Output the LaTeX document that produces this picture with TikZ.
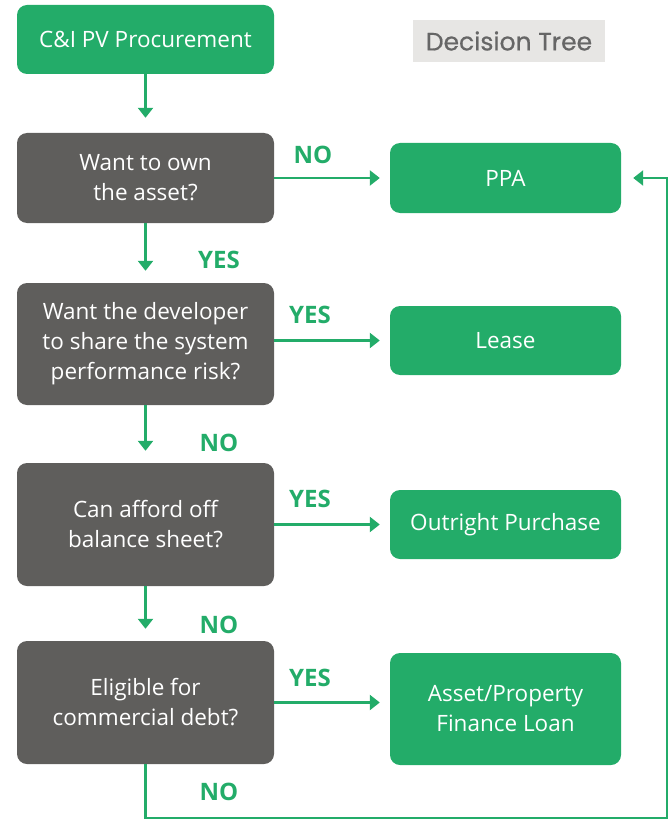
\documentclass[tikz,border=0pt]{standalone}
\usepackage{fontspec}
\setmainfont{Open Sans}
\newfontfamily\titlefont[FakeBold=0.6]{Poppins}
\usetikzlibrary{arrows.meta}
\definecolor{leafgreen}{HTML}{23AC69}
\definecolor{askgray}{HTML}{5F5E5C}
\definecolor{tagbg}{HTML}{E7E6E4}
\definecolor{tagtext}{HTML}{666666}
\tikzset{
  box/.style={rectangle, rounded corners=10pt, text=white, align=center,
    font=\fontsize{22.5}{30}\selectfont, inner sep=0pt},
  question/.style={box, fill=askgray, minimum width=257pt},
  answer/.style={box, fill=leafgreen, minimum width=231pt},
  flow/.style={draw=leafgreen, line width=2.4pt,
    -{Triangle[width=15pt,length=10pt]}, shorten >=12pt},
  verdict/.style={text=leafgreen, font=\bfseries\fontsize{24}{28}\selectfont}
}
\begin{document}
\begin{tikzpicture}[x=1pt, y=-1pt]
\useasboundingbox (0,0) rectangle (669,821);

% start and legend
\node[box, fill=leafgreen, minimum width=257pt, minimum height=69pt] (start) at (145.5,39.5) {C\&I PV Procurement};
\node[fill=tagbg, minimum width=192pt, minimum height=42pt, text=tagtext,
  font=\titlefont\fontsize{25}{28}\selectfont] (tag) at (509,41) {Decision Tree};

% questions
\node[question, minimum height=90pt] (q1) at (145.5,178) {Want to own\\the asset?};
\node[question, minimum height=122pt] (q2) at (145.5,344) {Want the developer\\to share the system\\performance risk?};
\node[question, minimum height=123pt] (q3) at (145.5,524.5) {Can afford off\\balance sheet?};
\node[question, minimum height=123pt] (q4) at (145.5,702.5) {Eligible for\\commercial debt?};

% outcomes
\node[answer, minimum height=70pt] (ppa) at (505.5,178) {PPA};
\node[answer, minimum height=69pt] (lease) at (505.5,340.5) {Lease};
\node[answer, minimum height=69pt] (buy) at (505.5,524.5) {Outright Purchase};
\node[answer, minimum height=112pt] (loan) at (505.5,709) {Asset/Property\\Finance Loan};

% vertical chain
\draw[flow, shorten >=15pt] (start) -- (q1);
\draw[flow] (q1) -- (q2);
\draw[flow] (q2) -- (q3);
\draw[flow] (q3) -- (q4);

% outcome branches
\draw[flow, shorten >=10pt] (q1.east) -- (ppa.west);
\draw[flow, shorten >=10pt] (q2.east |- lease) -- (lease.west);
\draw[flow, shorten >=10pt] (q3.east) -- (buy.west);
\draw[flow, shorten >=10pt] (q4.east) -- (q4.east -| loan.west);

% fall-back loop to PPA
\coordinate (bl) at (145.5,818);
\coordinate (br) at (667,818);
\draw[flow] (q4.south) -- (bl) -- (br) -- (br |- ppa) -- (ppa.east);

% branch labels
\node[verdict] (l1) at (313,155) {NO};
\node[verdict] (l2) at (219,260) {YES};
\node[verdict] (l3) at (310,315) {YES};
\node[verdict] (l4) at (219,443) {NO};
\node[verdict] (l5) at (310,499) {YES};
\node[verdict] (l6) at (219,625) {NO};
\node[verdict] (l7) at (310,678) {YES};
\node[verdict] (l8) at (219,792) {NO};
\end{tikzpicture}
\end{document}
